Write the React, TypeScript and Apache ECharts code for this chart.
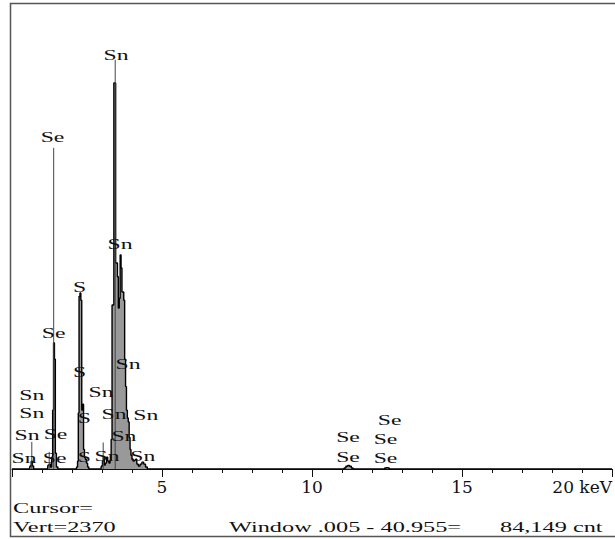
import React, { useEffect, useRef } from "react";
import * as echarts from "echarts";

// Spectrum (energy in keV, counts)
const spectrumKeV = [
  0, 0.58, 0.62, 0.66, 0.7, 0.74,
  1.18, 1.22, 1.26, 1.3, 1.34, 1.37, 1.4, 1.43, 1.46, 1.5, 1.56,
  2.14, 2.17, 2.2, 2.22, 2.25, 2.28, 2.31, 2.34, 2.37, 2.4, 2.43, 2.46, 2.5, 2.54, 2.58,
  2.96, 3.0, 3.03, 3.06, 3.09, 3.13, 3.17, 3.21, 3.25, 3.29, 3.32, 3.35, 3.38, 3.41, 3.44,
  3.47, 3.5, 3.53, 3.56, 3.59, 3.62, 3.65, 3.68, 3.71, 3.74, 3.77, 3.8, 3.83, 3.86, 3.89,
  3.92, 3.95, 3.98, 4.02, 4.06, 4.1, 4.14, 4.18, 4.24, 4.3, 4.36, 4.42, 4.48, 4.54,
  11.04, 11.1, 11.16, 11.22, 11.28, 11.34, 11.4,
  12.4, 12.45, 12.5, 12.55, 12.6, 20,
];
const spectrumCounts = [
  0, 0, 15, 40, 15, 0,
  0, 20, 25, 10, 60, 300, 643, 560, 80, 10, 0,
  0, 10, 40, 285, 880, 897, 860, 300, 330, 100, 60, 50, 30, 10, 0,
  0, 15, 40, 60, 20, 30, 60, 40, 30, 45, 150, 836, 836, 1967, 1967,
  1050, 1050, 980, 820, 870, 1091, 1025, 902, 902, 860, 560, 420, 300, 260, 240,
  160, 100, 70, 50, 40, 45, 50, 25, 15, 25, 35, 25, 10, 0,
  0, 5, 14, 18, 14, 5, 0,
  0, 5, 7, 5, 0, 0,
];

// KLM marker lines (keV, height in counts)
const markerKeV = [0.66, 1.24, 1.39, 3.04, 3.44];
const markerCounts = [138, 87, 1637, 135, 2085];

// Element labels (text, keV, counts at label centre)
const labelText = [
  "Sn", "Se", "Sn", "S", "Se", "Sn", "S", "Sn", "Sn", "Sn", "S", "Sn", "Sn",
  "Sn", "Sn", "Se", "Sn", "Se", "S", "Sn", "Sn", "Se", "Se", "Se", "Se", "Se",
];
const labelKeV = [
  3.47, 1.35, 3.6, 2.25, 1.39, 3.87, 2.25, 0.66, 2.97, 0.66, 2.41, 3.4, 4.46,
  3.73, 0.5, 1.45, 0.4, 1.42, 2.41, 3.17, 4.36, 11.2, 11.2, 12.59, 12.45, 12.45,
];
const labelCounts = [
  2110, 1692, 1147, 928, 693, 535, 494, 377, 392, 285, 260, 280, 275,
  168, 173, 178, 56, 56, 61, 66, 66, 163, 61, 250, 153, 56,
];

// Axis
const xMin = 0;
const xMax = 20;
const xInterval = 5;
const yMax = 2370;
const tickLabels: Record<number, string> = { 5: "5", 10: "10", 15: "15", 20: "20 keV" };

// Status texts
const cursorText = "Cursor=";
const vertText = "Vert=2370";
const windowText = "Window .005 - 40.955=";
const countText = "84,149 cnt";

const SERIF = '"Liberation Serif", "Times New Roman", serif';
const STRETCH = 1.62;

export default function App() {
  const ref = useRef<HTMLDivElement>(null);

  useEffect(() => {
    document.body.style.margin = "0";
    const chart = echarts.init(ref.current!, null, { renderer: "svg" });
    const spectrum = spectrumKeV.map((k, i) => [k, spectrumCounts[i]]);
    const markers = markerKeV.map((k, i) => [k, markerCounts[i]]);
    const labels = labelKeV.map((k, i) => [k, labelCounts[i]]);

    const statusText = (text: string, x: number, y: number) => ({
      type: "text",
      x,
      y,
      scaleX: STRETCH,
      style: {
        text,
        font: `15px ${SERIF}`,
        fill: "#111",
        textAlign: "left",
        textVerticalAlign: "middle",
      },
    });

    chart.setOption({
      animation: false,
      backgroundColor: "#ffffff",
      grid: { left: 12, right: -2, top: 4, bottom: 70, containLabel: false },
      xAxis: {
        type: "value",
        min: xMin,
        max: xMax,
        interval: xInterval,
        axisLine: { show: true, lineStyle: { color: "#111", width: 1 } },
        axisTick: { show: true, length: 8, lineStyle: { color: "#111" } },
        minorTick: { show: true, splitNumber: 5, length: 4, lineStyle: { color: "#111" } },
        splitLine: { show: false },
        minorSplitLine: { show: false },
        axisLabel: {
          show: true,
          margin: 9,
          color: "#111",
          fontFamily: '"DejaVu Serif", serif',
          fontSize: 17,
          showMinLabel: false,
          showMaxLabel: true,
          alignMaxLabel: "right",
          formatter: (v: number) => tickLabels[v] ?? "",
        },
      },
      yAxis: {
        type: "value",
        min: 0,
        max: yMax,
        show: false,
        splitLine: { show: false },
      },
      graphic: [
        {
          type: "rect",
          shape: { x: 10.5, y: 3.5, width: 640, height: 533 },
          style: { fill: "none", stroke: "#555", lineWidth: 1.5 },
          silent: true,
        },
        statusText(cursorText, 13, 508),
        statusText(vertText, 13, 527),
        statusText(windowText, 229, 527),
        statusText(countText, 500, 527),
      ],
      series: [
        {
          type: "line",
          data: spectrum,
          step: "middle",
          symbol: "none",
          lineStyle: { color: "#000", width: 1.4 },
          areaStyle: { color: "#999999", opacity: 1 },
          z: 2,
        },
        {
          type: "custom",
          data: markers,
          z: 3,
          renderItem: (params: any, api: any) => {
            const p0 = api.coord([api.value(0), 0]);
            const p1 = api.coord([api.value(0), api.value(1)]);
            return {
              type: "line",
              shape: { x1: p0[0], y1: p0[1], x2: p1[0], y2: p1[1] },
              style: { stroke: "#444", lineWidth: 1 },
            };
          },
        },
        {
          type: "custom",
          data: labels,
          z: 4,
          renderItem: (params: any, api: any) => {
            const p = api.coord([api.value(0), api.value(1)]);
            return {
              type: "text",
              x: p[0],
              y: p[1],
              scaleX: 1.58,
              style: {
                text: labelText[params.dataIndex],
                font: `15px ${SERIF}`,
                fill: "#111",
                align: "center",
                verticalAlign: "middle",
                textAlign: "center",
                textVerticalAlign: "middle",
              },
            };
          },
        },
      ],
    });
    return () => chart.dispose();
  }, []);

  return (
    <div
      ref={ref}
      style={{ position: "fixed", left: 0, top: 0, width: 615, height: 539, background: "#fff" }}
    />
  );
}
